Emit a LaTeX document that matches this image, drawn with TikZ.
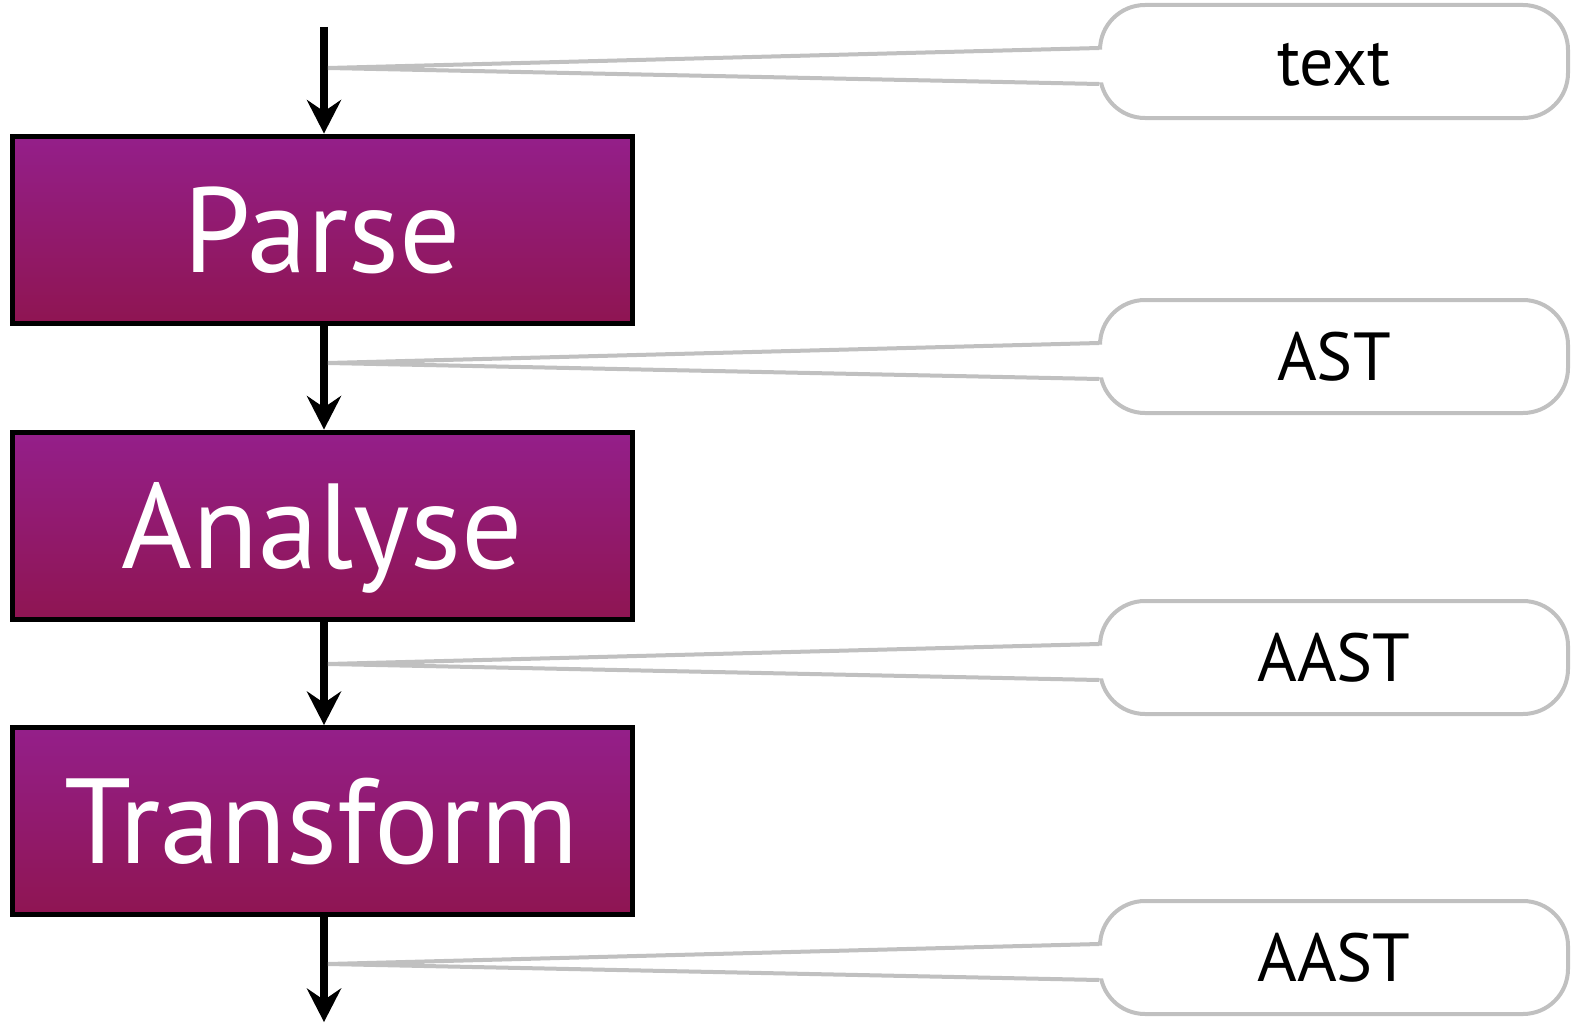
\documentclass[tikz,border=0pt]{standalone}
\usepackage{fontspec}
\setmainfont{PT Sans}
\usetikzlibrary{calc,decorations.markings}
\definecolor{boxtop}{HTML}{941F8A}
\definecolor{boxbot}{HTML}{8F1552}
\definecolor{callgray}{HTML}{C0C0C0}
\begin{document}
\begin{tikzpicture}[x=1pt,y=1pt,
  stage/.style={draw=black, line width=5pt, top color=boxtop, bottom color=boxbot,
    minimum width=620pt, minimum height=187pt, inner sep=0pt, text=white,
    font=\fontsize{121}{121}\selectfont, text height=85pt, text depth=0pt},
  flow/.style={line width=8pt, shorten >=14pt,
    postaction={decorate},
    decoration={markings, mark=at position 1 with
      {\fill[black, shorten >=0pt, shorten <=0pt] (0,0) -- (-34,17.5) -- (-22,0) -- (-34,-17.5) -- cycle;}}},
  pill/.style={draw=callgray, line width=4pt, fill=white, rounded corners=45pt,
    minimum width=468pt, minimum height=113pt, inner sep=0pt,
    font=\fontsize{68}{68}\selectfont, text height=47pt, text depth=0pt},
  tail/.style={draw=callgray, line width=4pt, line join=miter}]
\useasboundingbox (0,0) rectangle (1572,-1025);

\node[stage] (parse) at (322,-229.5) {Parse};
\node[stage] (analyse) at (322,-525.5) {Analyse};
\node[stage] (transform) at (322,-821) {Transform};

\coordinate (in) at (324,-27);
\coordinate (out) at (324,-1022);

\draw[flow] (in) -- (in |- parse.north);
\draw[flow] (parse.south -| in) -- (analyse.north -| in);
\draw[flow] (analyse.south -| in) -- (transform.north -| in);
\draw[flow] (transform.south -| in) -- (out);

\foreach \n/\t/\y in {p1/text/-61.5, p2/AST/-356.5, p3/AAST/-657.5, p4/AAST/-957.5}{
  \node[pill] (\n) at (1334,\y) {\t};
  \coordinate (\n tip) at ($(\n.west -| in)+(4,-6.5)$);
  \fill[white] (\n tip) -- ($(\n.west)+(8,12)$) -- ($(\n.west)+(8,-21)$) -- cycle;
  \draw[tail] ($(\n.west)+(1,13.5)$) -- (\n tip) -- ($(\n.west)+(1,-22.5)$);
}
\end{tikzpicture}
\end{document}
